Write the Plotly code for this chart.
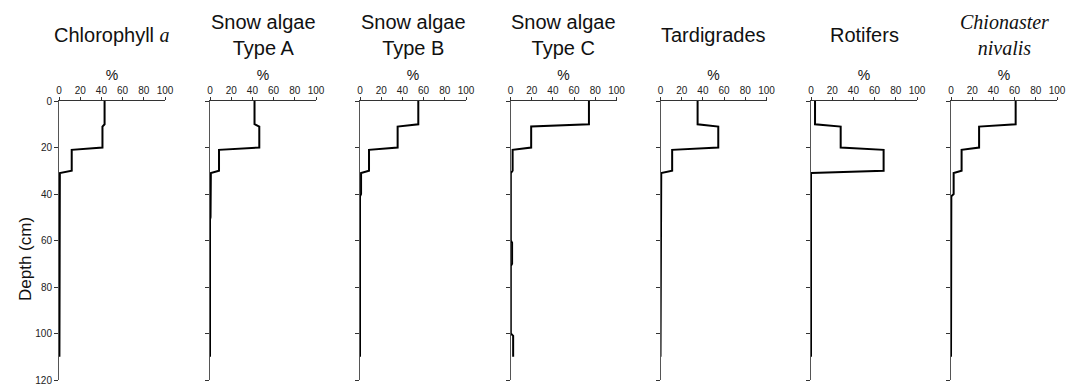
import plotly.graph_objects as go

# ---------------- data ----------------
panel_titles = [
    "Chlorophyll <span style=\"font-family:'Liberation Serif'\"><i>a</i></span>",
    "Snow algae<br>Type A",
    "Snow algae<br>Type B",
    "Snow algae<br>Type C",
    "Tardigrades",
    "Rotifers",
    "<i>Chionaster<br>nivalis</i>",
]
title_is_serif = [False, False, False, False, False, False, True]

# sampling layers (cm): top and bottom depth of each layer
layer_top = [0, 11, 21, 31, 41, 51, 61, 71, 81, 91, 101]
layer_bottom = [10, 20, 30, 40, 50, 60, 70, 80, 90, 100, 110]

# relative abundance (%) per layer
chlorophyll_a = [43, 41, 12, 0.8, 0.8, 0.4, 0.4, 0.4, 0.4, 0.4, 0.4]
snow_algae_a = [42, 46.5, 8.5, 0.8, 0.5, 0, 0, 0, 0, 0, 0]
snow_algae_b = [55, 35.5, 8.5, 1.0, 0, 0, 0, 0, 0, 0, 0]
snow_algae_c = [74, 19.5, 2.0, 0.3, 0.6, 0.3, 1.5, 0.3, 0.3, 0.3, 2.5]
tardigrades = [35, 54.5, 11, 0.7, 0, 0, 0, 0, 0, 0, 0]
rotifers = [3.8, 28, 68.5, 0, 0, 0, 0, 0, 0, 0, 0]
chionaster_nivalis = [61, 26.5, 10, 2.5, 0.3, 0, 0, 0, 0, 0, 0]

series = [chlorophyll_a, snow_algae_a, snow_algae_b, snow_algae_c,
          tardigrades, rotifers, chionaster_nivalis]

x_ticks = [0, 20, 40, 60, 80, 100]
y_ticks = [0, 20, 40, 60, 80, 100, 120]

# ---------------- layout geometry (pixels) ----------------
W, H = 1067, 387
left_px = [59, 210, 360, 510.5, 660.5, 811, 951]
panel_w = 106
top_px, bot_px = 101, 380

SANS = "Liberation Sans, Arial, sans-serif"
SERIF = "Liberation Serif, Times New Roman, serif"

fig = go.Figure()
layout = {}
annotations = []

for i, vals in enumerate(series):
    xs, ys = [], []
    for t, b, v in zip(layer_top, layer_bottom, vals):
        xs += [v, v]
        ys += [t, b]
    sfx = "" if i == 0 else str(i + 1)
    fig.add_trace(go.Scatter(
        x=xs, y=ys, mode="lines",
        line=dict(color="black", width=2),
        xaxis="x" + sfx, yaxis="y" + sfx,
        showlegend=False, hoverinfo="skip",
    ))
    x0 = left_px[i]
    layout["xaxis" + sfx] = dict(
        domain=[x0 / W, (x0 + panel_w) / W],
        range=[0, 100], side="top", anchor="y" + sfx,
        tickvals=x_ticks, ticks="outside", ticklen=3, tickwidth=1,
        tickcolor="#333", showline=True, linecolor="#333", linewidth=1,
        showgrid=False, zeroline=False, automargin=False,
        ticklabelstandoff=-1,
        tickfont=dict(size=10, family=SANS, color="#222"),
        title=dict(text="%", font=dict(size=14, family=SANS, color="#111"),
                   standoff=1),
        fixedrange=True,
    )
    layout["yaxis" + sfx] = dict(
        domain=[1 - bot_px / H, 1 - top_px / H],
        range=[120, 0], anchor="x" + sfx,
        tickvals=y_ticks, ticks="outside", ticklen=4, tickwidth=1,
        tickcolor="#333", showline=True, linecolor="#555", linewidth=1,
        showgrid=False, zeroline=False, showticklabels=(i == 0),
        automargin=False,
        tickfont=dict(size=10, family=SANS, color="#222"),
        fixedrange=True,
    )
    annotations.append(dict(
        text=panel_titles[i], xref="paper", yref="paper",
        x=(x0 + panel_w / 2) / W, y=1 - 35 / H,
        xanchor="center", yanchor="middle", showarrow=False,
        font=dict(size=20, family=SERIF if title_is_serif[i] else SANS,
                  color="#111"),
    ))

annotations.append(dict(
    text="Depth (cm)", xref="paper", yref="paper",
    x=25 / W, y=1 - 259 / H, xanchor="center", yanchor="middle",
    textangle=-90, showarrow=False,
    font=dict(size=17, family=SANS, color="#111"),
))

fig.update_layout(
    width=W, height=H,
    margin=dict(l=0, r=0, t=0, b=0, autoexpand=False),
    paper_bgcolor="white", plot_bgcolor="white",
    annotations=annotations,
    **layout,
)

fig.write_html(
    "out.html",
    config={"displayModeBar": False},
    post_script="document.body.style.margin='0';document.body.style.overflow='hidden';",
)
